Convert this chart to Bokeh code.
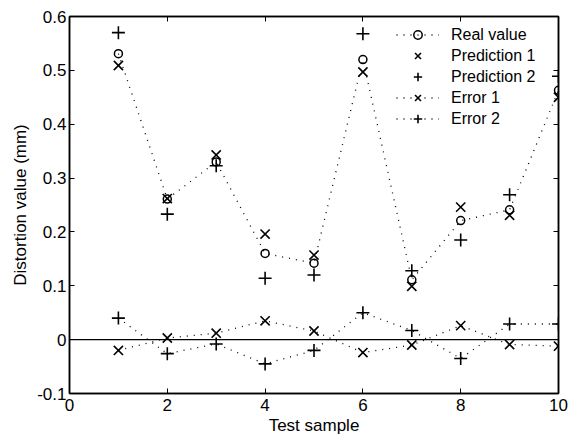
from bokeh.plotting import figure
from bokeh.models import Range1d, LinearAxis, Span, Legend, LegendItem, FixedTicker
from bokeh.embed import file_html
from bokeh.resources import INLINE

samples = [1, 2, 3, 4, 5, 6, 7, 8, 9, 10]
real_value = [0.531, 0.261, 0.330, 0.160, 0.142, 0.520, 0.111, 0.221, 0.241, 0.463]
prediction1 = [0.509, 0.262, 0.343, 0.196, 0.157, 0.497, 0.099, 0.246, 0.231, 0.450]
prediction2 = [0.570, 0.233, 0.323, 0.114, 0.120, 0.568, 0.128, 0.185, 0.269, 0.489]
error1 = [-0.020, 0.003, 0.012, 0.035, 0.016, -0.024, -0.010, 0.026, -0.009, -0.012]
error2 = [0.040, -0.026, -0.008, -0.045, -0.020, 0.050, 0.017, -0.035, 0.029, 0.029]

x_ticks = [0, 2, 4, 6, 8, 10]
y_ticks = [-0.1, 0.0, 0.1, 0.2, 0.3, 0.4, 0.5, 0.6]
y_tick_labels = ["-0.1", "0", "0.1", "0.2", "0.3", "0.4", "0.5", "0.6"]

FONT = "Liberation Sans"
TICK_SIZE = "17px"

p = figure(width=574, height=439, x_range=Range1d(0, 10), y_range=Range1d(-0.1, 0.6),
           output_backend="svg", toolbar_location=None,
           min_border_left=69, min_border_right=16, min_border_top=16, min_border_bottom=46)
p.background_fill_color = "white"
p.border_fill_color = "white"
p.xgrid.visible = False
p.ygrid.visible = False
p.outline_line_color = "black"
p.outline_line_width = 1.5

def style_axis(ax, labels=True, standoff=3):
    ax.axis_line_color = "black"
    ax.axis_line_width = 1.5
    ax.major_tick_in = 5
    ax.major_tick_out = 0
    ax.minor_tick_in = 0
    ax.minor_tick_out = 0
    ax.major_tick_line_color = "black"
    ax.major_tick_line_width = 1
    ax.major_label_text_font = FONT
    if labels:
        ax.major_label_text_color = "black"
        ax.major_label_text_font_size = TICK_SIZE
        ax.major_label_standoff = standoff
    else:
        ax.major_label_text_color = None
        ax.major_label_text_font_size = "1px"
        ax.major_label_standoff = 0

xa = p.xaxis[0]
xa.ticker = FixedTicker(ticks=x_ticks)
style_axis(xa, standoff=5)
xa.axis_label = "Test sample"
xa.axis_label_text_font = FONT
xa.axis_label_text_font_size = TICK_SIZE
xa.axis_label_text_font_style = "normal"
xa.axis_label_text_color = "black"
xa.axis_label_standoff = 2

ya = p.yaxis[0]
ya.ticker = FixedTicker(ticks=y_ticks)
ya.major_label_overrides = {t: l for t, l in zip(y_ticks, y_tick_labels)}
style_axis(ya, standoff=3)
ya.axis_label = "Distortion value (mm)"
ya.axis_label_text_font = FONT
ya.axis_label_text_font_size = TICK_SIZE
ya.axis_label_text_font_style = "normal"
ya.axis_label_text_color = "black"
ya.axis_label_standoff = 4

top = LinearAxis(ticker=FixedTicker(ticks=x_ticks))
style_axis(top, labels=False)
p.add_layout(top, "above")
right = LinearAxis(ticker=FixedTicker(ticks=y_ticks))
style_axis(right, labels=False)
p.add_layout(right, "right")

p.add_layout(Span(location=0, dimension="width", line_color="black", line_width=1.2))

DOT = "1 6"
r_line = p.line(samples, real_value, line_color="black", line_dash=DOT, line_width=1.3)
r_pts = p.scatter(samples, real_value, marker="circle", size=8, fill_color=None,
                  line_color="black", line_width=1.5)
p1 = p.scatter(samples, prediction1, marker="x", size=13, line_color="black", line_width=1.6)
p2 = p.scatter(samples, prediction2, marker="cross", size=13, line_color="black", line_width=1.6)
e1_line = p.line(samples, error1, line_color="black", line_dash=DOT, line_width=1.3)
e1_pts = p.scatter(samples, error1, marker="x", size=13, line_color="black", line_width=1.6)
e2_line = p.line(samples, error2, line_color="black", line_dash=DOT, line_width=1.3)
e2_pts = p.scatter(samples, error2, marker="cross", size=13, line_color="black", line_width=1.6)

legend = Legend(items=[
    LegendItem(label="Real value", renderers=[r_line, r_pts]),
    LegendItem(label="Prediction 1", renderers=[p1]),
    LegendItem(label="Prediction 2", renderers=[p2]),
    LegendItem(label="Error 1", renderers=[e1_line, e1_pts]),
    LegendItem(label="Error 2", renderers=[e2_line, e2_pts]),
], location=(327, 264))
legend.border_line_color = None
legend.background_fill_alpha = 0
legend.padding = 0
legend.margin = 0
legend.spacing = 0
legend.glyph_width = 43
legend.glyph_height = 21
legend.label_height = 21
legend.label_standoff = 12
legend.label_text_font = FONT
legend.label_text_font_size = "16px"
legend.label_text_color = "black"
p.add_layout(legend, "center")

open("out.html", "w").write(file_html(p, INLINE))
